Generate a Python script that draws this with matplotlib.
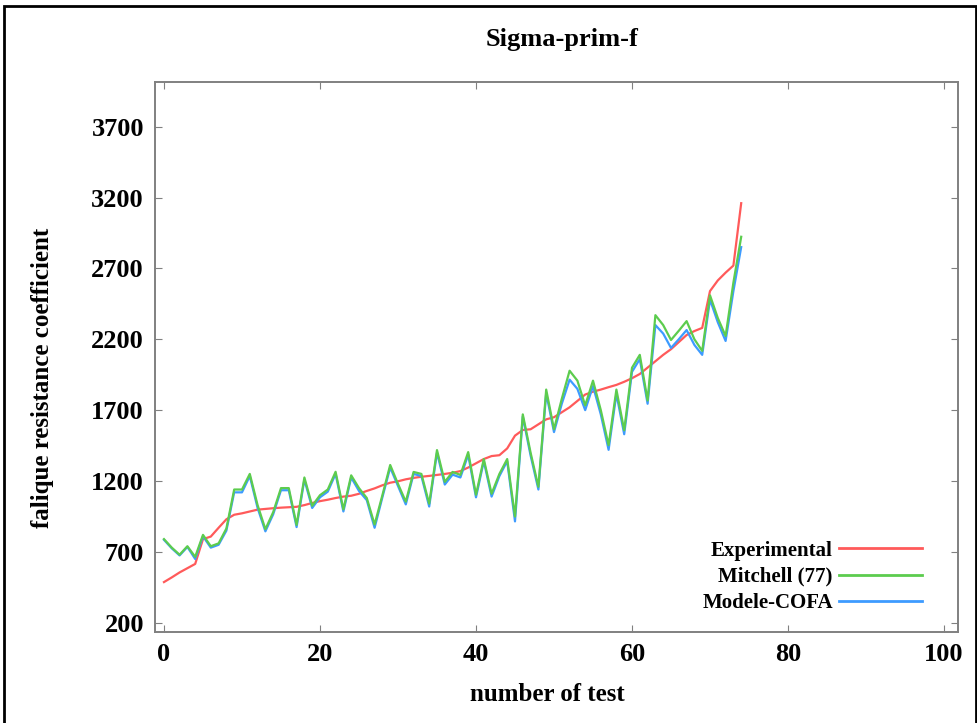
import numpy as np
import matplotlib.pyplot as plt
from matplotlib.patches import Rectangle


RED = "#ff5a5a"
GREEN = "#5ccc4e"
BLUE = "#3d9bff"
SPINE = "#808080"
SERIF = ["Liberation Serif", "DejaVu Serif"]

test_number = list(range(75))

experimental = [
    487, 520, 555, 585, 615, 790, 808, 870, 930, 962,
    972, 985, 998, 1003, 1008, 1012, 1015, 1018, 1030, 1045,
    1058, 1068, 1080, 1090, 1096, 1110, 1130, 1148, 1170, 1188,
    1198, 1212, 1222, 1230, 1236, 1243, 1250, 1258, 1270, 1295,
    1325, 1355, 1376, 1382, 1430, 1520, 1560, 1565, 1600, 1635,
    1650, 1685, 1720, 1765, 1810, 1830, 1845, 1862, 1878, 1900,
    1925, 1955, 2000, 2045, 2090, 2130, 2180, 2230, 2258, 2280,
    2540, 2615, 2670, 2720, 3160,
]

mitchell = [
    790, 730, 680, 740, 665, 820, 740, 760, 865, 1140,
    1140, 1250, 1030, 860, 980, 1150, 1150, 890, 1225, 1025,
    1100, 1140, 1265, 1000, 1240, 1150, 1080, 893, 1100, 1313,
    1180, 1054, 1264, 1250, 1040, 1418, 1194, 1264, 1243, 1404,
    1103, 1355, 1110, 1250, 1355, 949, 1670, 1400, 1159, 1845,
    1565, 1780, 1978, 1908, 1733, 1908, 1700, 1453, 1845, 1558,
    1999, 2090, 1768, 2370, 2300, 2195, 2260, 2328, 2200, 2118,
    2510, 2350, 2223, 2600, 2923,
]

cofa = [
    785, 725, 675, 735, 650, 810, 730, 750, 850, 1120,
    1120, 1235, 1010, 845, 965, 1135, 1135, 875, 1210, 1010,
    1085, 1125, 1250, 985, 1225, 1130, 1065, 870, 1085, 1295,
    1165, 1035, 1250, 1235, 1020, 1400, 1175, 1245, 1225, 1385,
    1085, 1340, 1090, 1235, 1340, 915, 1655, 1380, 1140, 1820,
    1545, 1745, 1915, 1850, 1700, 1870, 1670, 1420, 1815, 1530,
    1970, 2060, 1745, 2300, 2240, 2139, 2200, 2265, 2160, 2090,
    2480, 2320, 2188, 2540, 2850,
]

y_ticks = [200, 700, 1200, 1700, 2200, 2700, 3200, 3700]
x_ticks = [0, 20, 40, 60, 80, 100]


fig = plt.figure(figsize=(9.78, 7.23), dpi=100)
ax = fig.add_axes([0.1585, 0.1259, 0.8211, 0.7607])

ax.plot(test_number, experimental, color=RED, lw=1.6, label="Experimental")
ax.plot(test_number, mitchell, color=GREEN, lw=1.6, label="Mitchell (77)")
ax.plot(test_number, cofa, color=BLUE, lw=1.6, label="Modele-COFA")
# green sits under blue in the reference but shows at peaks
ax.lines[1].set_zorder(2.6)

ax.set_xlim(-1.15, 101.8)
ax.set_ylim(135, 4015)
ax.set_xticks(x_ticks)
ax.set_yticks(y_ticks)
ax.tick_params(direction="in", length=5, color=SPINE, top=True, right=True, pad=8)
for lab in ax.get_xticklabels() + ax.get_yticklabels():
    lab.set_fontfamily(SERIF)
    lab.set_fontweight("bold")
    lab.set_fontsize(19)
for side in ax.spines.values():
    side.set_color(SPINE)
    side.set_linewidth(1.4)

ax.set_xlabel("number of test", family=SERIF, weight="bold", fontsize=18, va="center")
ax.set_ylabel("falique resistance coefficient", family=SERIF, weight="bold", fontsize=18, va="center")
ax.xaxis.set_label_coords(0.489, -0.1145)
ax.yaxis.set_label_coords(-0.1407, 0.462)
fig.text(0.5746, 0.9447, "Sigma-prim-f", family=SERIF, weight="bold", fontsize=19, ha="center", va="center")

leg = ax.legend(loc="lower right", bbox_to_anchor=(0.979, 0.0), frameon=False, markerfirst=False,
                handlelength=4.0, labelspacing=0.3, handletextpad=0.3,
                prop={"family": SERIF, "weight": "bold", "size": 15})
for handle in leg.get_lines():
    handle.set_linewidth(2.0)

fig.patches.append(Rectangle((4 / 978, -0.01), 972 / 978, 1.01 - 6 / 723, transform=fig.transFigure,
                             fill=False, edgecolor="black", linewidth=2))

fig.savefig("out.png", dpi=100)
